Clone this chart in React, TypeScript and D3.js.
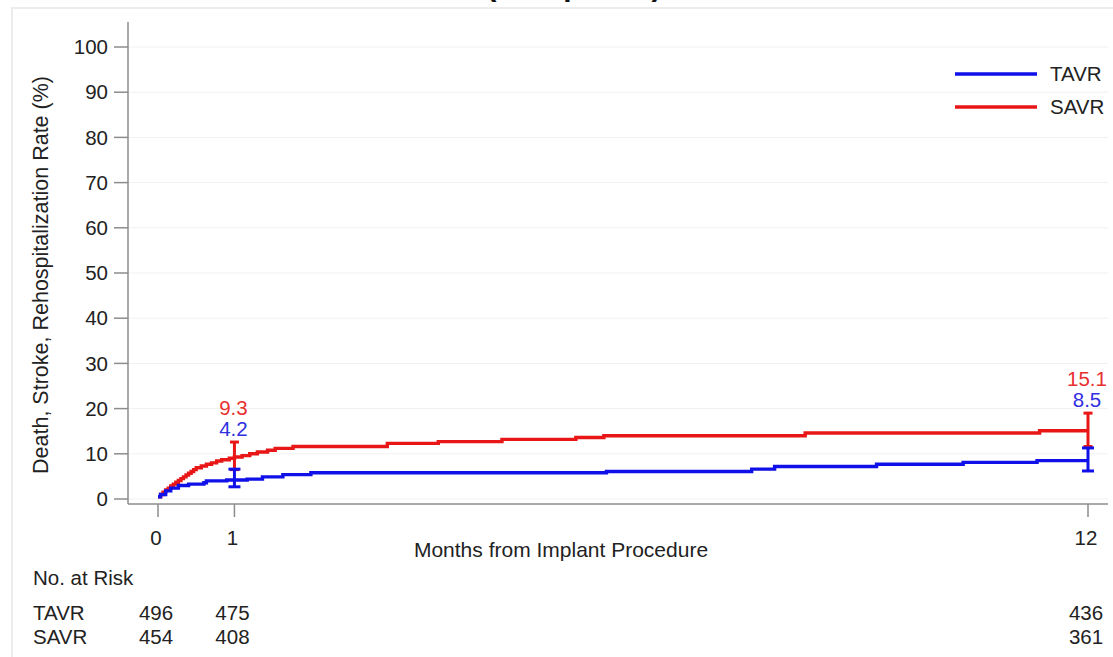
import React from "react";
import * as d3 from "d3";

// ---------- data ----------
const yTicks = [0, 10, 20, 30, 40, 50, 60, 70, 80, 90, 100];
const xTickDays = [0, 30, 365];
const xTickLabels = ["0", "1", "12"];

// Kaplan–Meier style step curves (day, % event rate)
const tavrDays = [0, 1, 3, 5, 8, 12, 18, 19, 27, 35, 41, 49, 60, 176, 233, 242, 282, 316, 345, 365];
const tavrRates = [0.5, 1.0, 1.8, 2.4, 3.0, 3.3, 3.6, 4.0, 4.2, 4.4, 4.9, 5.4, 5.8, 6.1, 6.6, 7.2, 7.7, 8.1, 8.5, 8.5];

const savrDays = [0, 1, 2, 3, 4, 5, 6, 7, 8, 9, 10, 11, 12, 13, 14, 15, 17, 19, 21, 23, 25, 28, 30, 33, 36, 39, 43, 46, 53, 90, 110, 135, 164, 175, 254, 346, 365];
const savrRates = [0.5, 1.0, 1.5, 2.0, 2.4, 2.9, 3.3, 3.7, 4.1, 4.5, 4.9, 5.3, 5.7, 6.1, 6.5, 6.9, 7.3, 7.7, 8.0, 8.4, 8.7, 9.0, 9.3, 9.6, 10.0, 10.4, 10.8, 11.2, 11.6, 12.3, 12.7, 13.2, 13.6, 14.0, 14.6, 15.1, 15.1];

// confidence intervals at 1 and 12 months
const ciDays = [30, 365];
const tavrLower = [2.7, 6.2];
const tavrUpper = [6.6, 11.3];
const savrLower = [6.5, 11.6];
const savrUpper = [12.6, 19.0];
const tavrLabels = ["4.2", "8.5"];
const savrLabels = ["9.3", "15.1"];

// numbers at risk
const riskDays = [0, 30, 365];
const tavrRisk = [496, 475, 436];
const savrRisk = [454, 408, 361];

const seriesNames = ["TAVR", "SAVR"];

// ---------- styling ----------
const W = 1113;
const H = 657;
const BLUE = "#1010e8";
const RED = "#e81616";
const BLUE_TXT = "#3030e0";
const RED_TXT = "#e83030";
const FONT = "'Liberation Sans', Arial, Helvetica, sans-serif";
const AXIS = "#8c8c8c";

export default function App() {
  const x = d3.scaleLinear().domain([0, 365]).range([158, 1088]);
  const y = d3.scaleLinear().domain([0, 100]).range([499, 47]);
  const xLeft = 128;
  const xRight = 1108;
  const yBottom = 504;
  const yTop = 22;

  const line = d3
    .line<[number, number]>()
    .x((d) => x(d[0]))
    .y((d) => y(d[1]))
    .curve(d3.curveStepAfter);

  const tavrPath = line(tavrDays.map((d, i) => [d, tavrRates[i]]) as [number, number][]) || "";
  const savrPath = line(savrDays.map((d, i) => [d, savrRates[i]]) as [number, number][]) || "";

  const errBar = (lo: number[], hi: number[], color: string, cap: number, key: string) =>
    ciDays.map((d, i) => {
      const cx = x(d);
      return (
        <g key={key + i} stroke={color} strokeWidth={3}>
          <line x1={cx} x2={cx} y1={y(hi[i])} y2={y(lo[i])} />
          <line x1={cx - cap} x2={cx + cap} y1={y(hi[i])} y2={y(hi[i])} />
          <line x1={cx - cap} x2={cx + cap} y1={y(lo[i])} y2={y(lo[i])} />
        </g>
      );
    });

  return (
    <svg
      width={W}
      height={H}
      style={{ position: "absolute", left: 0, top: 0, background: "#fff" }}
      fontFamily={FONT}
    >
      <rect x={0} y={0} width={W} height={H} fill="#fff" />
      {/* title, clipped by the top edge as in the source */}
      <text x={574} y={-4} textAnchor="middle" fontSize={30} fontWeight="bold" fill="#111">
        (Composite)
      </text>
      {/* faint frame */}
      <rect x={12} y={8} width={W + 20} height={H + 20} fill="none" stroke="#ececec" strokeWidth={2} />

      {/* grid lines */}
      {yTicks.map((t) => (
        <line key={"g" + t} x1={xLeft} x2={xRight} y1={y(t)} y2={y(t)} stroke="#f1f1f1" strokeWidth={1} />
      ))}

      {/* y axis */}
      <line x1={xLeft} x2={xLeft} y1={yTop} y2={yBottom} stroke={AXIS} strokeWidth={1.5} />
      {yTicks.map((t) => (
        <g key={"yt" + t}>
          <line x1={xLeft - 14} x2={xLeft} y1={y(t)} y2={y(t)} stroke={AXIS} strokeWidth={1.5} />
          <text x={xLeft - 20} y={y(t)} dy="0.35em" textAnchor="end" fontSize={20.5} fill="#222">
            {t}
          </text>
        </g>
      ))}
      <text
        transform={`translate(48,275) rotate(-90)`}
        textAnchor="middle"
        fontSize={21.5}
        fill="#222"
      >
        Death, Stroke, Rehospitalization Rate (%)
      </text>

      {/* x axis */}
      <line x1={xLeft} x2={xRight} y1={yBottom} y2={yBottom} stroke={AXIS} strokeWidth={1.5} />
      {xTickDays.map((d, i) => (
        <g key={"xt" + d}>
          <line x1={x(d)} x2={x(d)} y1={yBottom} y2={yBottom + 13} stroke={AXIS} strokeWidth={1.5} />
          <text x={x(d) - 2} y={545} textAnchor="middle" fontSize={20.5} fill="#222">
            {xTickLabels[i]}
          </text>
        </g>
      ))}
      <text x={561} y={557} textAnchor="middle" fontSize={21} fill="#222">
        Months from Implant Procedure
      </text>

      {/* curves */}
      <path d={savrPath} fill="none" stroke={RED} strokeWidth={3.4} />
      <path d={tavrPath} fill="none" stroke={BLUE} strokeWidth={3.4} />

      {/* error bars */}
      {errBar(savrLower, savrUpper, RED, 4.5, "se")}
      {errBar(tavrLower, tavrUpper, BLUE, 6, "te")}

      {/* value labels */}
      {ciDays.map((d, i) => (
        <g key={"lab" + d}>
          <text x={x(d) - 1} y={y(savrUpper[i]) - 27} textAnchor="middle" fontSize={20.5} fill={RED_TXT}>
            {savrLabels[i]}
          </text>
          <text x={x(d) - 1} y={y(savrUpper[i]) - 6} textAnchor="middle" fontSize={20.5} fill={BLUE_TXT}>
            {tavrLabels[i]}
          </text>
        </g>
      ))}

      {/* legend */}
      {seriesNames.map((s, i) => (
        <g key={"lg" + s}>
          <line x1={955} x2={1037} y1={74 + i * 33} y2={74 + i * 33} stroke={i === 0 ? BLUE : RED} strokeWidth={3.5} />
          <text x={1050} y={74 + i * 33} dy="0.36em" fontSize={20.5} fill="#222">
            {s}
          </text>
        </g>
      ))}

      {/* number at risk */}
      <text x={33} y={585} fontSize={20.5} fill="#222">
        No. at Risk
      </text>
      {seriesNames.map((s, r) => (
        <g key={"risk" + s}>
          <text x={33} y={620 + r * 24} fontSize={20.5} fill="#222">
            {s}
          </text>
          {riskDays.map((d, i) => (
            <text key={d} x={x(d) - 2} y={620 + r * 24} textAnchor="middle" fontSize={20.5} fill="#222">
              {(r === 0 ? tavrRisk : savrRisk)[i]}
            </text>
          ))}
        </g>
      ))}
    </svg>
  );
}
